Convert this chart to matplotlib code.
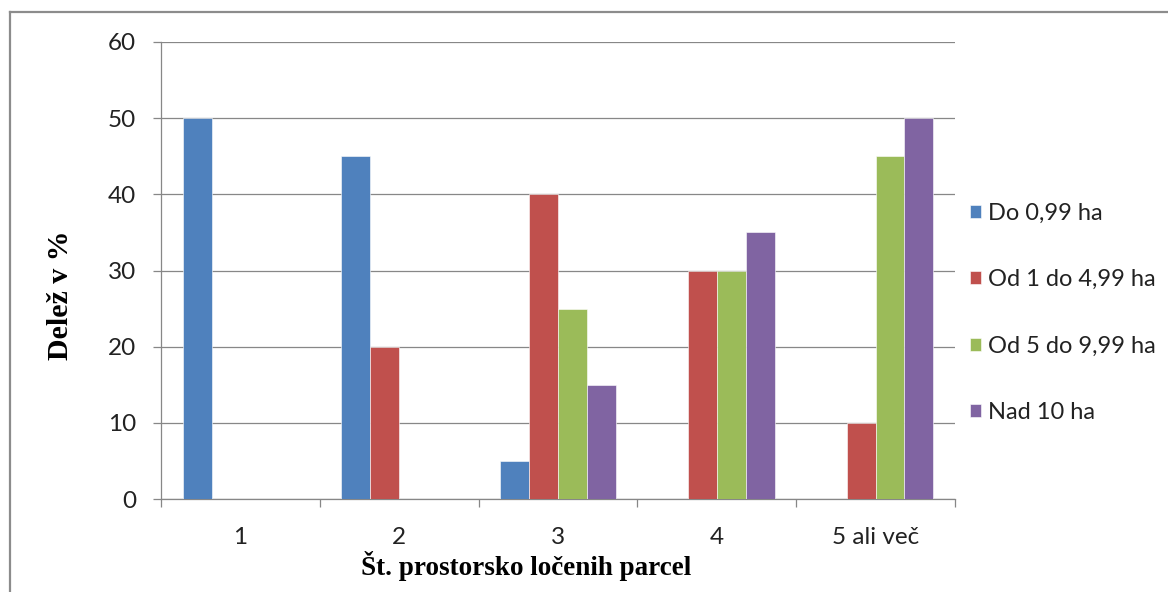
"""Grouped bar chart: delež kmetij po številu prostorsko ločenih parcel."""
import matplotlib
matplotlib.use("Agg")
import matplotlib.pyplot as plt
from matplotlib.lines import Line2D
import numpy as np

categories = ["1", "2", "3", "4", "5 ali več"]
series_names = ["Do 0,99 ha", "Od 1 do 4,99 ha", "Od 5 do 9,99 ha", "Nad 10 ha"]
do_099 = [50, 45, 5, 0, 0]
od_1_499 = [0, 20, 40, 30, 10]
od_5_999 = [0, 0, 25, 30, 45]
nad_10 = [0, 0, 15, 35, 50]
yticks = [0, 10, 20, 30, 40, 50, 60]

COLORS = ["#4F81BD", "#C0504D", "#9BBB59", "#8064A2"]
GRID = "#878787"
TICK_FONT = "Lato"
LABEL_FONT = "Liberation Serif"
FS = 17.5

fig = plt.figure(figsize=(11.68, 5.92), dpi=100)
ax = fig.add_axes([161 / 1168, 1 - 499 / 592, 794 / 1168, 457 / 592])

x = np.arange(len(categories)) + 0.5
n = len(series_names)
group = 4 / 5.5
width = group / n
for i, (vals, color) in enumerate(zip([do_099, od_1_499, od_5_999, nad_10], COLORS)):
    offs = -group / 2 + width * (i + 0.5)
    ax.bar(x + offs, vals, width, color=color, edgecolor="#ffffff",
           linewidth=0.4, label=series_names[i], zorder=3)

ax.set_xlim(0, len(categories))
ax.set_ylim(0, 60)
ax.set_yticks(yticks)
ax.grid(True, axis="y", color=GRID, linewidth=0.9, zorder=0)

# category boundaries as ticks, labels at centers
ax.set_xticks(np.arange(len(categories) + 1))
ax.set_xticklabels([])
ax.set_xticks(x, minor=True)
ax.set_xticklabels(categories, minor=True, fontsize=FS, family=TICK_FONT,
                   color="#222222")
ax.tick_params(axis="x", which="major", length=6, width=0.9, color=GRID,
               direction="out")
ax.tick_params(axis="x", which="minor", length=0, pad=20)
ax.tick_params(axis="y", length=6, width=0.9, color=GRID, direction="out",
               pad=12, labelsize=FS, labelcolor="#222222")
for lbl in ax.get_yticklabels():
    lbl.set_family(TICK_FONT)

for side in ["top", "right"]:
    ax.spines[side].set_visible(False)
for side in ["left", "bottom"]:
    ax.spines[side].set_color(GRID)
    ax.spines[side].set_linewidth(0.9)

fig.text(526 / 1168, 1 - 566 / 592, "Št. prostorsko ločenih parcel",
         ha="center", va="center", fontsize=19.5, fontweight="bold",
         family=LABEL_FONT)
fig.text(60 / 1168, 1 - 295 / 592, "Delež v %", ha="center", va="center",
         rotation=90, fontsize=21.5, fontweight="bold", family=LABEL_FONT)

leg = fig.legend(loc="center left", bbox_to_anchor=(970 / 1168, 1 - 313 / 592),
                 frameon=False, prop={"family": TICK_FONT, "size": 17},
                 handlelength=0.47, handleheight=0.47, handletextpad=0.3,
                 labelspacing=1.92, borderpad=0, borderaxespad=0)
for t in leg.get_texts():
    t.set_color("#222222")

# outer frame (left and top edges visible)
fig.add_artist(Line2D([9.5 / 1168, 9.5 / 1168], [0, 1 - 12 / 592],
                      color="#8c8c8c", linewidth=1.6))
fig.add_artist(Line2D([9.5 / 1168, 1], [1 - 12 / 592, 1 - 12 / 592],
                      color="#8c8c8c", linewidth=1.6))

fig.savefig("out.png", dpi=100)
